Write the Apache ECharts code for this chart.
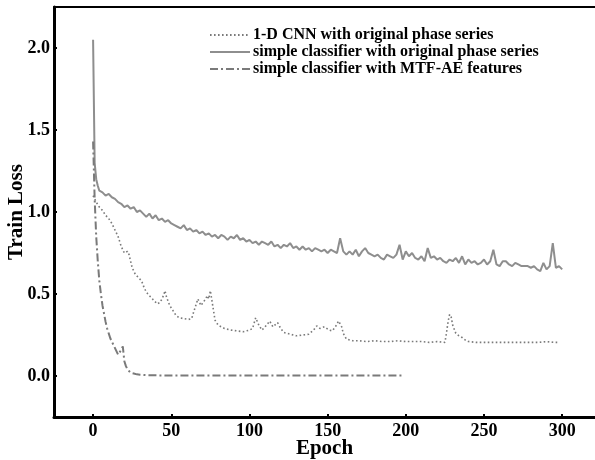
<!DOCTYPE html>
<html>
<head>
<meta charset="utf-8">
<script src="https://cdn.jsdelivr.net/npm/echarts@6/dist/echarts.min.js"></script>
<style>
    html, body { margin: 0; padding: 0; background: #fff; }
    #lossChart { width: 595px; height: 460px; }
</style>
</head>
<body>
<div id="lossChart"></div>
<script>
// values
let xTicks = [0, 50, 100, 150, 200, 250, 300];
let yTicks = [0, 0.5, 1.0, 1.5, 2.0];

let cnnEpochs = [0, 2, 4, 6, 8, 10, 12, 14, 16, 18, 20, 22, 23, 25, 27, 29, 31, 33, 35, 37, 39, 41, 43, 45, 46, 47, 49, 51, 53, 55, 58, 61, 63, 65, 67, 69, 70, 72, 73, 74, 75, 76, 77, 78, 80, 84, 88, 92, 96, 100, 102, 104, 106, 108, 110, 113, 115, 116, 118, 120, 122, 126, 130, 134, 138, 141, 143, 145, 146, 148, 149, 151, 153, 155, 157, 159, 160, 162, 166, 170, 175, 180, 185, 190, 195, 200, 205, 210, 215, 220, 225, 226, 227, 228, 229, 230, 232, 234, 236, 238, 240, 245, 250, 255, 260, 265, 270, 275, 280, 285, 290, 295, 298];
let cnnLoss = [1.10, 1.06, 1.03, 1.01, 0.98, 0.96, 0.93, 0.89, 0.85, 0.79, 0.75, 0.76, 0.74, 0.66, 0.62, 0.60, 0.58, 0.53, 0.50, 0.48, 0.46, 0.44, 0.45, 0.49, 0.52, 0.48, 0.43, 0.40, 0.37, 0.355, 0.35, 0.345, 0.35, 0.41, 0.47, 0.43, 0.42, 0.47, 0.49, 0.47, 0.52, 0.53, 0.40, 0.34, 0.31, 0.29, 0.28, 0.275, 0.27, 0.28, 0.29, 0.355, 0.31, 0.28, 0.30, 0.335, 0.30, 0.295, 0.325, 0.29, 0.265, 0.255, 0.245, 0.25, 0.255, 0.28, 0.305, 0.29, 0.285, 0.30, 0.305, 0.28, 0.275, 0.30, 0.335, 0.30, 0.26, 0.225, 0.215, 0.215, 0.21, 0.215, 0.21, 0.21, 0.215, 0.21, 0.21, 0.21, 0.205, 0.21, 0.205, 0.26, 0.33, 0.375, 0.36, 0.31, 0.26, 0.245, 0.235, 0.22, 0.21, 0.205, 0.205, 0.205, 0.205, 0.205, 0.205, 0.205, 0.205, 0.205, 0.21, 0.205, 0.205];

let simpleEpochs = [0, 1, 2, 3, 4, 6, 8, 10, 12, 14, 16, 18, 20, 22, 24, 26, 28, 30, 32, 34, 36, 38, 40, 42, 44, 46, 48, 50, 52, 54, 56, 58, 60, 62, 64, 66, 68, 70, 72, 74, 76, 78, 80, 82, 84, 86, 88, 90, 92, 94, 96, 98, 100, 102, 104, 106, 108, 110, 112, 114, 116, 118, 120, 122, 124, 126, 128, 130, 132, 134, 136, 138, 140, 142, 144, 146, 148, 150, 152, 154, 156, 158, 160, 162, 164, 166, 168, 170, 172, 174, 176, 178, 180, 182, 184, 186, 188, 190, 192, 194, 196, 198, 200, 202, 204, 206, 208, 210, 212, 214, 216, 218, 220, 222, 224, 226, 228, 230, 232, 234, 236, 238, 240, 242, 244, 246, 248, 250, 252, 254, 256, 258, 260, 262, 264, 266, 268, 270, 272, 274, 276, 278, 280, 282, 284, 286, 288, 290, 292, 294, 296, 298, 300];
let simpleLoss = [2.05, 1.30, 1.20, 1.16, 1.13, 1.12, 1.10, 1.11, 1.09, 1.08, 1.06, 1.05, 1.03, 1.04, 1.02, 1.03, 1.00, 1.01, 0.99, 0.97, 0.99, 0.96, 0.98, 0.95, 0.96, 0.94, 0.95, 0.93, 0.92, 0.91, 0.90, 0.92, 0.89, 0.90, 0.88, 0.89, 0.87, 0.88, 0.86, 0.87, 0.85, 0.86, 0.84, 0.86, 0.85, 0.83, 0.85, 0.84, 0.86, 0.83, 0.84, 0.82, 0.83, 0.81, 0.82, 0.80, 0.82, 0.81, 0.80, 0.82, 0.79, 0.80, 0.78, 0.80, 0.79, 0.81, 0.78, 0.79, 0.77, 0.79, 0.77, 0.78, 0.76, 0.78, 0.77, 0.76, 0.77, 0.75, 0.77, 0.76, 0.75, 0.84, 0.76, 0.74, 0.76, 0.74, 0.77, 0.73, 0.76, 0.78, 0.75, 0.74, 0.73, 0.74, 0.72, 0.71, 0.74, 0.73, 0.72, 0.74, 0.80, 0.71, 0.76, 0.73, 0.75, 0.72, 0.71, 0.73, 0.70, 0.78, 0.72, 0.73, 0.71, 0.72, 0.70, 0.69, 0.71, 0.70, 0.72, 0.69, 0.73, 0.68, 0.71, 0.69, 0.70, 0.68, 0.69, 0.71, 0.68, 0.70, 0.77, 0.68, 0.67, 0.70, 0.70, 0.68, 0.67, 0.69, 0.68, 0.67, 0.67, 0.67, 0.66, 0.67, 0.65, 0.64, 0.69, 0.65, 0.67, 0.81, 0.66, 0.67, 0.65];

let mtfEpochs = [0, 1, 2, 3, 4, 5, 6, 7, 8, 9, 10, 11, 12, 13, 14, 15, 16, 17, 18, 19, 20, 21, 22, 23, 24, 26, 28, 30, 35, 40, 50, 60, 80, 100, 120, 140, 160, 180, 199];
let mtfLoss = [1.43, 1.08, 0.85, 0.70, 0.58, 0.50, 0.43, 0.38, 0.33, 0.29, 0.26, 0.23, 0.21, 0.19, 0.17, 0.15, 0.13, 0.12, 0.16, 0.18, 0.09, 0.06, 0.04, 0.03, 0.02, 0.015, 0.01, 0.008, 0.005, 0.004, 0.003, 0.003, 0.003, 0.003, 0.003, 0.003, 0.003, 0.003, 0.003];

let seriesNames = [
    '1-D CNN with original phase series',
    'simple classifier with original phase series',
    'simple classifier with MTF-AE features'
];

function pairs(xs, ys) {
    return xs.map(function (x, i) { return [x, ys[i]]; });
}

let serif = '"Liberation Serif", "Times New Roman", serif';

let optionLoss = {
    animation: false,
    textStyle: { fontFamily: serif },
    grid: { left: 54, right: 0, top: 7, bottom: 43, outerBoundsMode: 'none', containLabel: false },
    legend: {
        orient: 'vertical',
        left: 209,
        top: 27,
        padding: 0,
        itemWidth: 40,
        itemHeight: 14,
        itemGap: 1,
        itemStyle: { opacity: 0 },
        textStyle: { fontFamily: serif, fontWeight: 'bold', fontSize: 16, lineHeight: 16, color: '#000', padding: [0, 0, 0, -2] },
        data: seriesNames
    },
    xAxis: [
        {
            type: 'value',
            min: -25,
            max: 321,
            name: 'Epoch',
            nameLocation: 'middle',
            nameGap: 21,
            nameMoveOverlap: false,
            nameTextStyle: { fontFamily: serif, fontWeight: 'bold', fontSize: 21, color: '#000' },
            axisLine: { onZero: false, lineStyle: { color: '#000', width: 3 } },
            axisTick: { inside: true, length: 3, customValues: xTicks, lineStyle: { color: '#000', width: 2 } },
            axisLabel: { customValues: xTicks, margin: 5, fontFamily: serif, fontWeight: 'bold', fontSize: 18, color: '#000' },
            splitLine: { show: false }
        },
        {
            type: 'value',
            position: 'top',
            min: -25,
            max: 321,
            axisLine: { onZero: false, lineStyle: { color: '#000', width: 2 } },
            axisTick: { show: false },
            axisLabel: { show: false },
            splitLine: { show: false }
        }
    ],
    yAxis: {
        type: 'value',
        min: -0.25,
        max: 2.25,
        name: 'Train Loss',
        nameLocation: 'middle',
        nameGap: 27,
        nameMoveOverlap: false,
        nameTextStyle: { fontFamily: serif, fontWeight: 'bold', fontSize: 21, color: '#000' },
        axisLine: { show: true, onZero: false, lineStyle: { color: '#000', width: 3 } },
        axisTick: { show: true, inside: true, length: 3, customValues: yTicks, lineStyle: { color: '#000', width: 2 } },
        axisLabel: {
            customValues: yTicks,
            margin: 4,
            fontFamily: serif, fontWeight: 'bold', fontSize: 18, color: '#000',
            formatter: function (v) { return v.toFixed(1); }
        },
        splitLine: { show: false }
    },
    series: [
        {
            name: seriesNames[0],
            type: 'line',
            symbol: 'none',
            data: pairs(cnnEpochs, cnnLoss),
            itemStyle: { color: '#7a7a7a' },
            lineStyle: { color: '#7a7a7a', width: 1.6, type: [1.6, 2.4] }
        },
        {
            name: seriesNames[1],
            type: 'line',
            symbol: 'none',
            data: pairs(simpleEpochs, simpleLoss),
            itemStyle: { color: '#8e8e8e' },
            lineStyle: { color: '#8e8e8e', width: 2 }
        },
        {
            name: seriesNames[2],
            type: 'line',
            symbol: 'none',
            data: pairs(mtfEpochs, mtfLoss),
            itemStyle: { color: '#7a7a7a' },
            lineStyle: { color: '#7a7a7a', width: 2, type: [8, 3, 2, 3] }
        }
    ]
};

let chartLoss = echarts.init(document.getElementById('lossChart'));
chartLoss.setOption(optionLoss);
</script>
</body>
</html>
